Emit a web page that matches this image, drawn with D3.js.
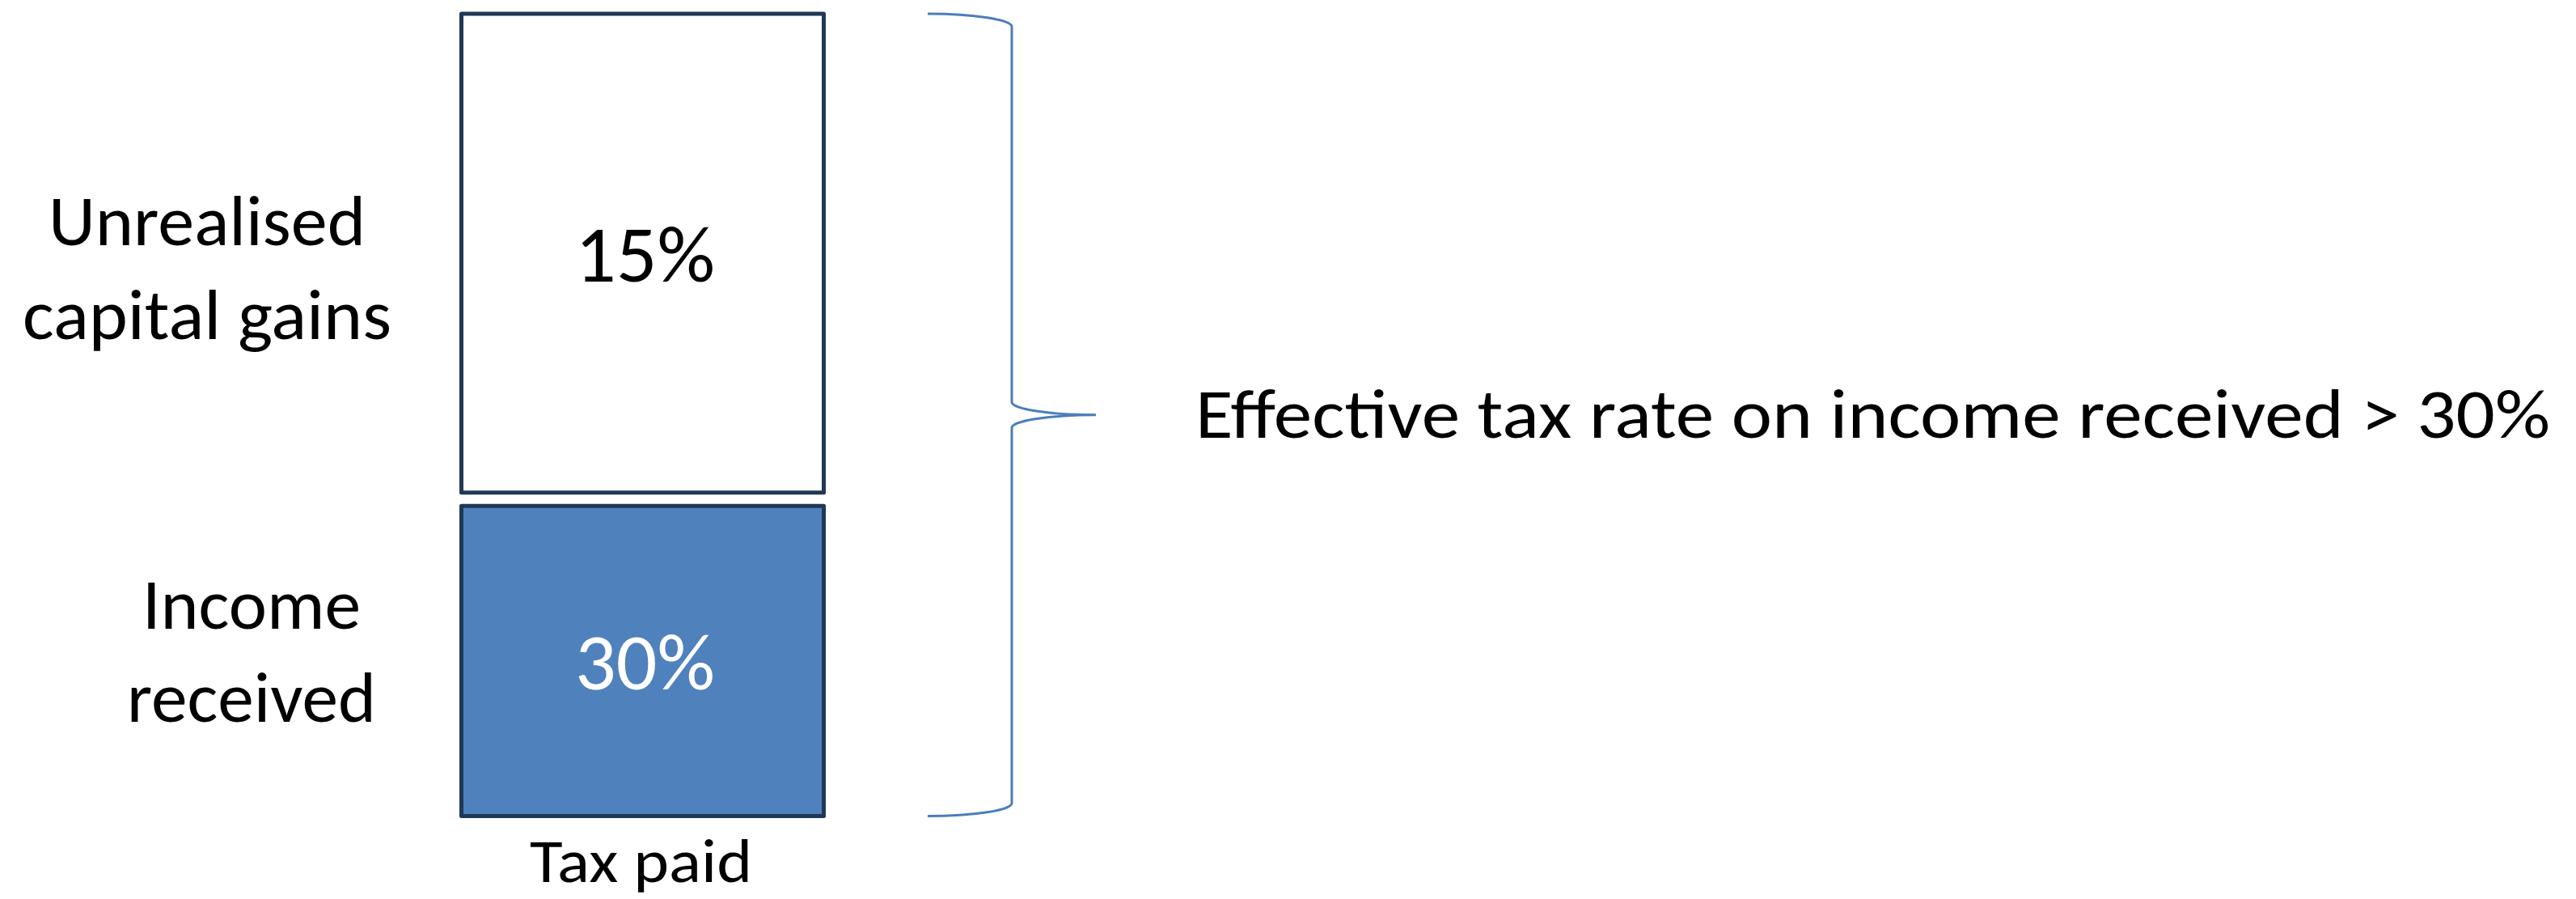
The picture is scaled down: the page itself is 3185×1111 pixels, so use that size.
<!DOCTYPE html>
<html>
<head>
<meta charset="utf-8">
<script src="https://cdn.jsdelivr.net/npm/d3@7"></script>
<style>
  html, body { margin: 0; padding: 0; background: #ffffff; }
  svg { display: block; }
  text { font-family: Carlito, Calibri, Lato, "Open Sans", sans-serif; }
</style>
</head>
<body>
<script>
// Components of a year's return on an investment
const segments = ["Unrealised capital gains", "Income received"];
const segmentLines = [["Unrealised", "capital gains"], ["Income", "received"]];
// Schematic share of the total return carried by each component (%)
const returnShare = [60.7, 39.3];
// Tax rate applied to each component
const taxRates = [15, 30];
const axisLabel = "Tax paid";
const annotation = "Effective tax rate on income received > 30%";

const W = 3185, H = 1111;
const svg = d3.select("body").append("svg")
  .attr("width", W).attr("height", H)
  .attr("viewBox", `0 0 ${W} ${H}`);

// Fit a text element to a given width by adjusting letter spacing and glyphs
function fitWidth(sel, width) {
  sel.attr("textLength", width).attr("lengthAdjust", "spacingAndGlyphs");
}

// Layout
const colX = { left: 570.5, right: 1018.5 };
const stackTop = 17, stackBottom = 1008.5, gap = 16.5;

// Vertical scale over the stacked return shares, leaving room for the gap
const y = d3.scaleLinear()
  .domain([0, d3.sum(returnShare)])
  .range([stackTop, stackBottom - gap * (segments.length - 1)]);

let acc = 0;
const boxes = segments.map((name, i) => {
  const y0 = y(acc) + gap * i;
  acc += returnShare[i];
  const y1 = y(acc) + gap * i;
  return { name, lines: segmentLines[i], rate: taxRates[i], y0, y1, i };
});

const fills = ["#ffffff", "#4f81bd"];
const labelColors = ["#000000", "#ffffff"];
const fmt = d => `${d}%`;

// Stacked boxes
svg.append("g").selectAll("rect").data(boxes).join("rect")
  .attr("x", colX.left)
  .attr("y", d => d.y0)
  .attr("width", colX.right - colX.left)
  .attr("height", d => d.y1 - d.y0)
  .attr("fill", d => fills[d.i])
  .attr("stroke", "#1f3856")
  .attr("stroke-width", 5)
  .attr("stroke-linejoin", "round");

// Tax-rate labels inside each box
const cx = (colX.left + colX.right) / 2;
svg.append("g").selectAll("text").data(boxes).join("text")
  .attr("x", cx + 3)
  .attr("y", d => (d.y0 + d.y1) / 2 + 35)
  .attr("text-anchor", "middle")
  .attr("font-size", 99)
  .attr("fill", d => labelColors[d.i])
  .text(d => fmt(d.rate))
  .call(fitWidth, 173);

// Component names to the left of the boxes, one text per line
const nameLayout = [
  { x: 256, dy: [-10, 106], w: [392, 456] },
  { x: 311, dy: [-40, 75], w: [270, 308] }
];
const nameLines = boxes.flatMap(b => b.lines.map((t, k) => ({ t, k, b })));
svg.append("g").selectAll("text").data(nameLines).join("text")
  .attr("x", o => nameLayout[o.b.i].x)
  .attr("y", o => (o.b.y0 + o.b.y1) / 2 + nameLayout[o.b.i].dy[o.k])
  .attr("text-anchor", "middle")
  .attr("font-size", 89)
  .attr("fill", "#000")
  .text(o => o.t)
  .each(function (o) { fitWidth(d3.select(this), nameLayout[o.b.i].w[o.k]); });

// Column label under the stack
svg.append("text")
  .attr("x", cx - 2)
  .attr("y", 1090)
  .attr("text-anchor", "middle")
  .attr("font-size", 77)
  .attr("fill", "#000")
  .text(axisLabel)
  .call(fitWidth, 275);

// Right curly brace spanning the whole stack
const yTop = boxes[0].y0, yBot = boxes[boxes.length - 1].y1;
const yMid = (yTop + yBot) / 2;
const bx0 = 1147, spine = 1251, bx1 = 1355, rx = spine - bx0, ry = 16;
const bracePath =
  `M${bx0},${yTop}` +
  ` A${rx},${ry} 0 0 1 ${spine},${yTop + ry}` +
  ` L${spine},${yMid - ry}` +
  ` A${bx1 - spine},${ry} 0 0 0 ${bx1},${yMid}` +
  ` A${bx1 - spine},${ry} 0 0 0 ${spine},${yMid + ry}` +
  ` L${spine},${yBot - ry}` +
  ` A${rx},${ry} 0 0 1 ${bx0},${yBot}`;
svg.append("path")
  .attr("d", bracePath)
  .attr("fill", "none")
  .attr("stroke", "#4a7ebb")
  .attr("stroke-width", 3);

// Annotation beside the brace
svg.append("text")
  .attr("x", 1478)
  .attr("y", yMid + 28)
  .attr("font-size", 86)
  .attr("fill", "#000")
  .text(annotation)
  .call(fitWidth, 1675);
</script>
</body>
</html>
